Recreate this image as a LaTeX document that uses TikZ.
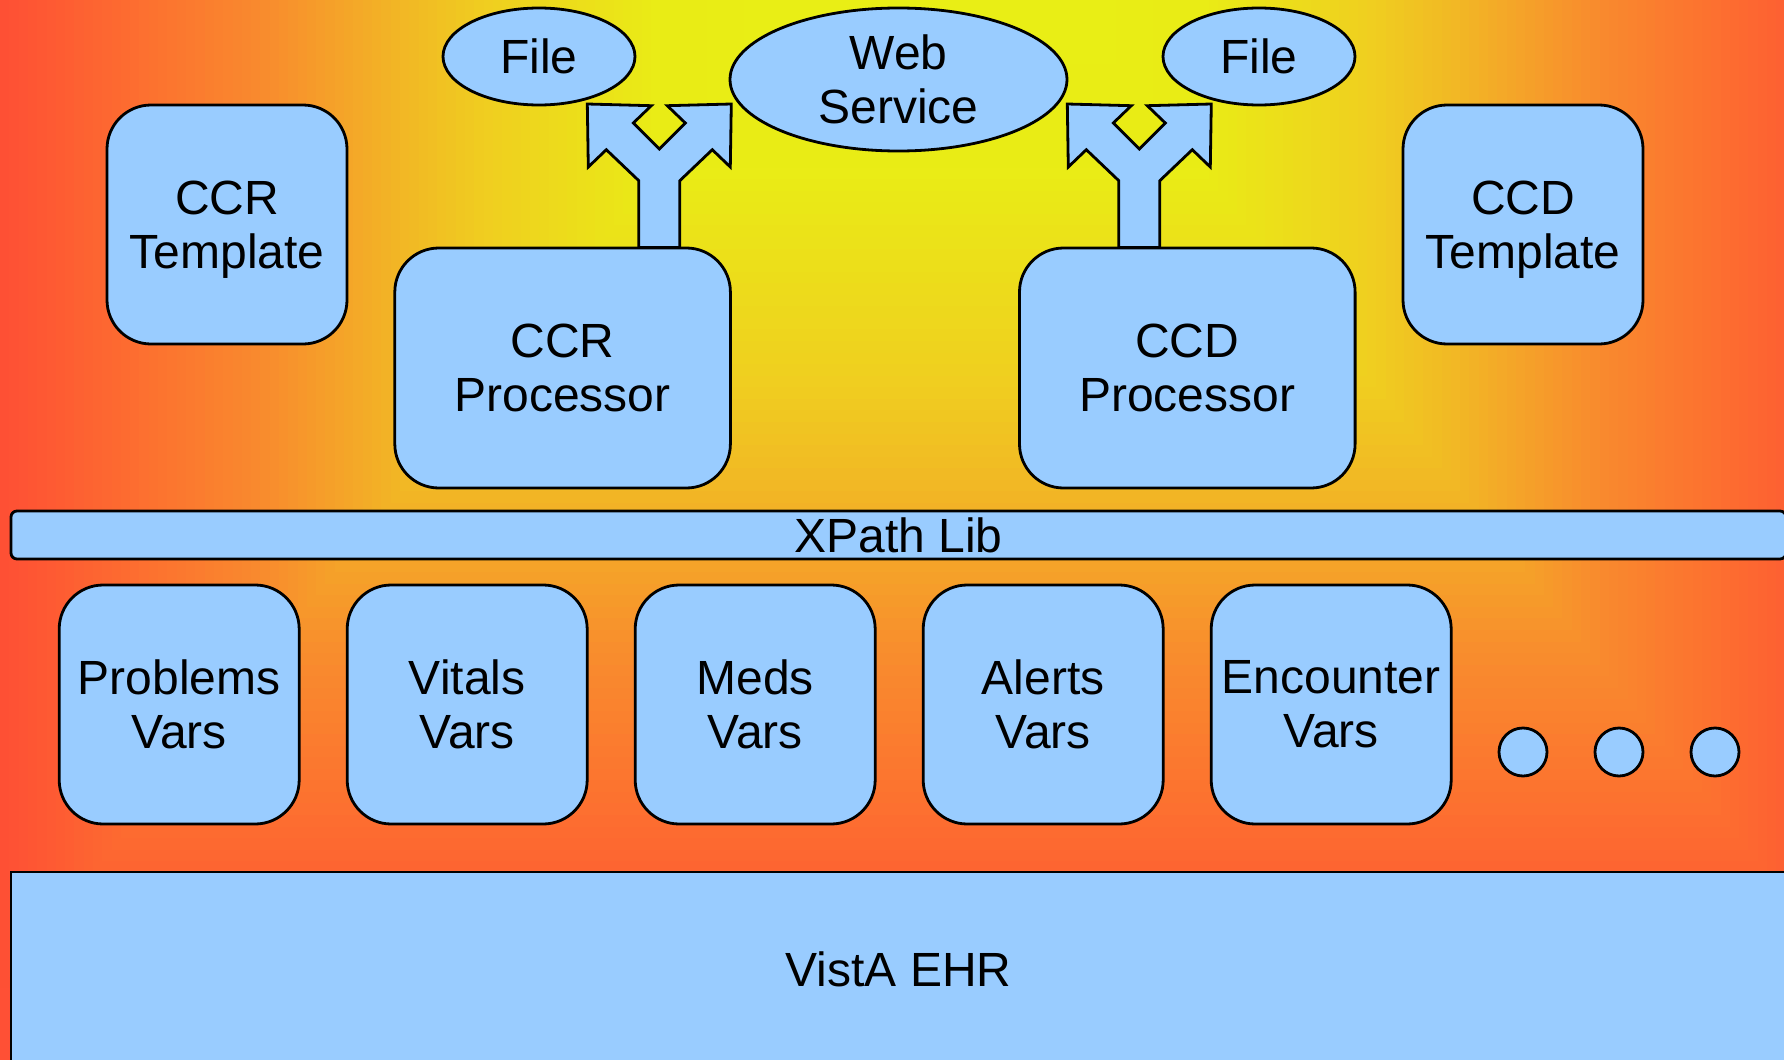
\documentclass[tikz,border=0pt]{standalone}
\usepackage{fontspec}
\setmainfont{Liberation Sans}
\usetikzlibrary{shapes.geometric}
\definecolor{boxblue}{RGB}{153,204,255}
\definecolor{bgred}{RGB}{255,80,53}
\tikzset{
  blk/.style={draw=black, line width=1.4pt, fill=boxblue, align=center, inner sep=0pt,
    font=\fontsize{24}{27}\selectfont},
  rbox/.style={blk, rounded corners=22pt, minimum width=120pt, minimum height=119.5pt},
  proc/.style={blk, rounded corners=22pt, minimum width=167.8pt, minimum height=120pt},
  oval/.style={blk, ellipse},
  dot/.style={blk, circle, minimum size=24pt},
  splitarrow/.style={draw=black, line width=1.4pt, fill=boxblue, line join=miter}
}
\begin{document}
\begin{tikzpicture}[x=0.5pt,y=-0.5pt]
\useasboundingbox (0,0) rectangle (1784,1060);
% background: rectangular gradient centred at the top
\begin{scope}
\clip (0,0) rectangle (1784,1060);
\fill[bgred] (0,0) rectangle (1784,1060);
\foreach \k in {0,...,120}{
  \pgfmathsetmacro\bgt{1.2-\k/100}
  \pgfmathsetmacro\bgsa{min(max(\bgt/0.3,0),1)}
  \pgfmathsetmacro\bgsb{min(max((\bgt-0.3)/0.18,0),1)}
  \pgfmathsetmacro\bgsc{min(max((\bgt-0.48)/0.09,0),1)}
  \pgfmathsetmacro\bgsd{min(max((\bgt-0.57)/0.15,0),1)}
  \pgfmathsetmacro\bgse{min(max((\bgt-0.72)/0.13,0),1)}
  \pgfmathsetmacro\bgsf{min(max((\bgt-0.85)/0.15,0),1)}
  \pgfmathtruncatemacro\bgR{min(255,232+2*\bgsa+6*\bgsb+2*\bgsc+7*\bgsd+4*\bgse+2*\bgsf)}
  \pgfmathtruncatemacro\bgG{242-6*\bgsa-29*\bgsb-23*\bgsc-44*\bgsd-28*\bgse-32*\bgsf}
  \pgfmathtruncatemacro\bgB{20+2*\bgsa+10*\bgsb+5*\bgsc+9*\bgsd+2*\bgse+5*\bgsf}
  \pgfmathsetmacro\bgY{max(0,(\bgt-0.145)*1156)}
  \definecolor{bgc}{RGB}{\bgR,\bgG,\bgB}
  \fill[bgc] ({930-930*\bgt},-10) rectangle ({930+930*\bgt},\bgY);
}
\end{scope}

% templates
\node[rbox, text depth=0pt] (ccrt) at (227,224.5) {CCR\\Template};
\node[rbox, text depth=0pt] (ccdt) at (1523,224.5) {CCD\\Template};

% split arrows
\begin{scope}[shift={(659.3,0)}]
\draw[splitarrow] (-72,104) -- (-8,105.7) -- (-26,123) -- (0,149) -- (26,123) -- (8,105.7) -- (72,104) -- (71,167) -- (53,149.7) -- (20.5,180.7) -- (20.5,247.5) -- (-20.5,247.5) -- (-20.5,180.7) -- (-53,149.7) -- (-71,167) -- cycle;
\end{scope}
\begin{scope}[shift={(1139.3,0)}]
\draw[splitarrow] (-72,104) -- (-8,105.7) -- (-26,123) -- (0,149) -- (26,123) -- (8,105.7) -- (72,104) -- (71,167) -- (53,149.7) -- (20.5,180.7) -- (20.5,247.5) -- (-20.5,247.5) -- (-20.5,180.7) -- (-53,149.7) -- (-71,167) -- cycle;
\end{scope}

% processors
\node[proc] (ccrp) at (562.6,368) {CCR\\Processor};
\node[proc] (ccdp) at (1187.3,368) {CCD\\Processor};

% outputs
\node[oval, minimum width=96pt, minimum height=48.5pt] (file1) at (539,56.5) {File};
\node[oval, minimum width=168.5pt, minimum height=71.5pt, inner sep=-6pt] (ws) at (898.5,79.5) {Web\\Service};
\node[oval, minimum width=96pt, minimum height=48.5pt] (file2) at (1259,56.5) {File};

% XPath bar
\node[blk, rectangle, rounded corners=3pt, minimum width=887.5pt, minimum height=24pt,
      text height=17.2pt, text depth=0pt] (xpath) at (898.5,535) {XPath Lib};

% vars
\node[rbox] (prob) at (179.2,704.5) {Problems\\Vars};
\node[rbox] (vit)  at (467.2,704.5) {Vitals\\Vars};
\node[rbox] (meds) at (755.2,704.5) {Meds\\Vars};
\node[rbox] (alrt) at (1043.2,704.5) {Alerts\\Vars};
\node[rbox] (enc)  at (1331.2,704.5) {Encounter\\Vars};

% dots
\node[dot] (d1) at (1523,752) {};
\node[dot] (d2) at (1619,752) {};
\node[dot] (d3) at (1715,752) {};

% VistA
\node[blk, rectangle, minimum width=887.5pt, minimum height=97pt] (ehr) at (898.5,969) {VistA EHR};
\end{tikzpicture}
\end{document}
